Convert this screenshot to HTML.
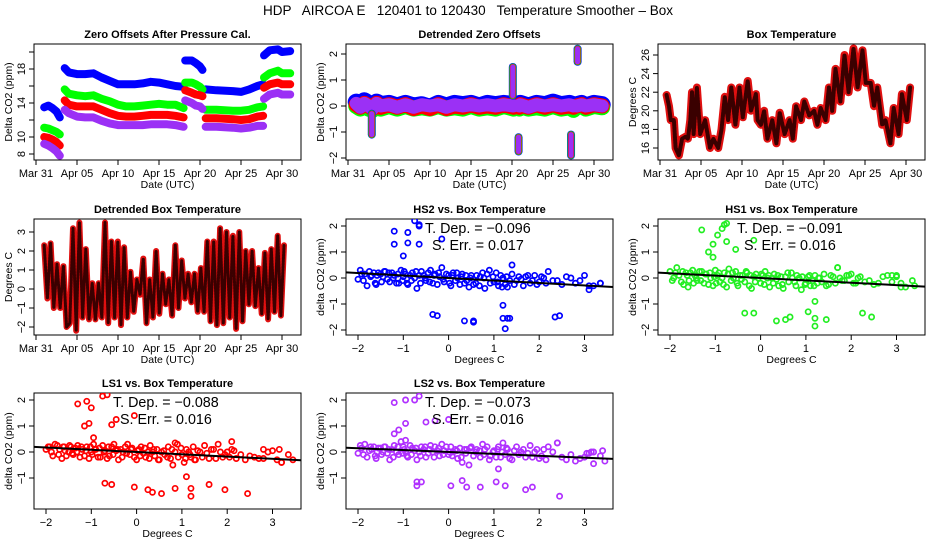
<!DOCTYPE html>
<html><head><meta charset="utf-8">
<style>
html,body{margin:0;padding:0;background:#fff;}
svg{display:block;font-family:"Liberation Sans",Arial,sans-serif;}
.tl{font-weight:bold;font-size:11px;}
.tk{font-size:11px;}
</style></head>
<body>
<svg id="chart" width="936" height="540" viewBox="0 0 936 540" xmlns="http://www.w3.org/2000/svg">
<rect width="936" height="540" fill="#fff"/>
<text x="468" y="15" text-anchor="middle" font-size="13.5" xml:space="preserve">HDP   AIRCOA E   120401 to 120430   Temperature Smoother – Box</text>
</svg>
<script>
// ---------- Panel 1: zero offsets ----------
const p1Days = [1,1.5,2,2.5,2.9,3.2,3.5,4,5,6,7,8,9,10,11,12,13,14,15,16,17,18,18.1,18.2,19,19.5,20,20.3,20.5,20.7,22,24,25,26,27,27.7,27.75,27.8,28.5,29.5,30,31];
const p1Blue = [13.5,13.7,13.4,13,12.3,null,18.1,17.6,17.4,17.4,17.5,17,16.6,16.2,16.2,16.2,16.3,16.5,16.4,16.2,16,15.9,null,19,19,18.7,18.3,17.9,null,15.6,15.5,15.4,15.3,15.6,16,16.2,null,19.6,20.2,20.3,20,20.1];
const p1Green = [11.1,11,10.8,10.6,10.3,null,15.6,15.1,14.9,14.8,14.9,14.5,14.2,13.8,13.6,13.6,13.7,13.8,13.9,13.8,13.8,13.4,null,16.4,16.4,16.2,15.9,15.6,null,13.2,13.2,13.1,13.1,13.2,13.5,13.6,null,17,17.5,17.8,17.5,17.5];
const p1Red = [10,9.9,9.7,9.4,9,null,14.3,13.8,13.6,13.6,13.6,13.2,12.8,12.5,12.4,12.4,12.5,12.6,12.6,12.6,12.5,12.3,null,15.5,15.2,15,14.9,14.8,null,12.2,12.2,12.1,12,12.1,12.4,12.5,null,15.8,16.2,16.4,16.2,16.2];
const p1Purple = [9.2,9,8.7,8.3,7.8,null,13.2,12.8,12.4,12.3,12.3,11.9,11.6,11.4,11.4,11.4,11.4,11.5,11.5,11.5,11.4,11.2,null,14.3,14,13.7,13.6,13.3,null,11.2,11.2,11.1,11,11.1,11.3,11.3,null,14.5,15,15.2,15,15];
// ---------- Panel 2: detrended ----------
const detDays = [1,1.5,2,2.5,3.0,3.2,3.5,4,5,6,7,8,9,10,11,12,13,14,15,16,17,18,19,20.2,20.5,20.9,21,22,23,24,25,26,27,27.5,27.7,27.9,28.5,29,30,31];
const detBlue = [0.15,0.0,0.2,0.1,-0.05,null,0.15,0.05,0.1,0.0,0.1,0.0,0.05,-0.05,0.1,0.0,0.1,0.05,0.1,0.0,0.1,0.05,0.1,0.05,null,0.05,0.1,0.0,0.1,0.05,0.15,0.05,0.1,0.05,null,0.05,0.1,0.0,0.1,0.05];
const detGreen = [0.0,-0.1,0.05,-0.1,-0.15,null,0.05,-0.1,0.0,-0.1,0.0,-0.1,-0.05,-0.1,0.0,-0.1,-0.05,-0.1,0.0,-0.1,-0.05,-0.1,0.0,-0.1,null,-0.1,0.0,-0.1,-0.05,-0.1,0.0,-0.1,-0.05,-0.15,null,-0.05,0.0,-0.1,0.0,-0.05];
const detRed = [0.05,-0.05,0.1,0.0,-0.1,null,0.1,-0.05,0.05,-0.05,0.05,-0.1,0.0,-0.1,0.05,-0.1,0.0,-0.05,0.05,-0.05,0.0,-0.05,0.05,-0.05,null,-0.05,0.05,-0.05,0.05,-0.05,0.05,-0.05,0.0,-0.05,null,0.0,0.05,-0.05,0.05,0.0];
const detPurple = [0.1,-0.05,0.1,0.0,-0.1,null,0.1,0.0,0.05,-0.05,0.05,-0.05,0.05,0.0,0.05,-0.05,0.05,0.0,0.05,0.0,0.05,0.0,0.05,0.0,null,0.0,0.05,-0.05,0.05,0.0,0.05,0.0,0.05,0.0,null,0.0,0.05,0.0,0.05,0.0];
const spikeDays = [2.9,20.1,20.8,27.2,28.0];
const spikeLo = [-1.1,0.4,-1.75,-1.9,1.7];
const spikeHi = [-0.3,1.5,-1.2,-1.1,2.2];
// ---------- Panel 3: box temperature ----------
const tempDays = [0.8,1.1,1.3,1.7,1.9,2.3,2.7,3.1,3.4,3.7,3.9,4.1,4.5,4.9,5.5,6.1,6.5,7.1,7.5,7.9,8.3,8.7,9.2,9.7,10.1,10.7,11.1,11.7,11.9,12.3,12.7,13.1,13.7,14.2,14.6,15.2,15.8,16.2,16.6,17.2,17.6,18.2,18.8,19.2,19.6,20.2,20.6,21,21.4,22,22.5,23,23.6,24.1,24.7,25.1,25.7,26.1,26.5,27.1,27.5,28.1,28.5,29.1,29.5,30.1,30.5];
const tempVals = [21.7,20.5,19,19,16,15.2,17,17.2,17,19,22,17.5,22.5,17.5,19,16,17,16,18,21.5,19,22.5,18.5,22.5,19.3,23.2,20,21.8,19,18.5,20,17,19,16.5,19.8,17.5,19,17,20.5,19,21,19.5,20,18.5,20.3,19,22.5,20,24.5,21,26,22,26.7,22.5,26.5,23,23,20.5,22.5,18.5,19,16.5,20.3,17.5,21.8,19,22.5];
// ---------- Panel 4: detrended box temperature ----------
const dtStartDay = 1.0;
const dtStepDay = 0.39;
const dtVals = [2.3,-0.5,2.4,-1,1.3,-1,1.2,-2,-1.8,3.2,-2.2,3.5,-1.5,2.1,-1.6,0.3,-1.6,0.3,-1.5,3.5,-1.8,2.5,-1.5,2.5,-1.9,2.2,-1.5,0.9,-1.2,0.5,-0.3,1.6,-1.8,0.5,-1.5,2,-1.3,0.8,-0.8,0.5,-1.4,2.3,-1,1.5,-0.5,0.8,-0.7,0.8,-1.2,1.1,-1.2,2.5,-1.7,2.5,-1.9,3.2,-1.8,3,-1.5,2.8,-2.1,3,-1.7,2,-0.8,2,-0.9,1.1,-1.3,1.9,-1.6,2.1,-1.2,2.8,-1.4,2.3];
// ---------- Scatter panels (shared box temperature x) ----------
const boxX = [-2.0,-1.95,-1.85,-1.8,-1.7,-1.65,-1.6,-1.5,-1.45,-1.4,-1.3,-1.25,-1.2,-1.1,-1.05,-1.0,-0.95,-0.9,-0.8,-0.75,-0.7,-0.6,-0.55,-0.5,-0.4,-0.35,-0.3,-0.2,-0.15,-0.1,0.0,0.05,0.1,0.2,0.25,0.3,0.4,0.45,0.5,0.6,0.7,0.75,0.8,0.9,1.0,1.05,1.1,1.2,1.25,1.3,1.4,1.5,1.6,1.7,1.8,1.9,2.0,2.1,2.2,2.4,2.6,2.8,3.0,3.2];
const boxX2 = [-1.92,-1.88,-1.75,-1.72,-1.62,-1.58,-1.55,-1.48,-1.42,-1.35,-1.32,-1.22,-1.15,-1.12,-1.02,-0.98,-0.92,-0.85,-0.82,-0.72,-0.65,-0.62,-0.52,-0.45,-0.42,-0.32,-0.25,-0.22,-0.12,-0.05,0.02,0.08,0.15,0.18,0.28,0.35,0.38,0.48,0.55,0.62,0.68,0.78,0.85,0.92,0.98,1.08,1.15,1.18,1.28,1.35,1.45,1.55,1.65,1.75,1.85,1.95,2.05,2.15,2.3,2.5,2.7,2.9,3.1,3.35];
const hs2Y = [-0.05,0.3,0.15,-0.3,0.1,0.2,-0.25,0.15,0.05,0.25,-0.15,0.2,0.1,-0.2,0.3,0.05,0.15,-0.25,0.2,0.0,-0.4,0.25,0.1,-0.1,0.3,-0.2,0.15,0.05,0.4,-0.15,0.1,-0.3,0.2,0.0,-0.25,0.15,-0.1,-0.35,0.1,-0.2,0.05,0.2,-0.4,0.3,-0.15,0.2,-0.3,0.0,-0.25,-0.35,0.15,-0.1,-0.05,0.05,-0.2,0.1,-0.15,0.0,0.25,-0.1,0.05,-0.2,0.1,-0.3];
const hs2Y2 = [0.15,-0.1,0.25,0.05,-0.2,0.1,0.2,-0.15,0.25,-0.05,0.2,0.0,-0.2,0.15,-0.1,0.25,-0.2,0.1,-0.1,0.25,0.1,-0.2,0.0,0.2,-0.15,0.1,-0.25,0.2,-0.05,0.15,-0.2,0.1,-0.1,0.2,0.05,-0.2,0.1,0.0,-0.25,0.1,-0.3,0.0,0.15,-0.2,0.05,-0.15,0.1,-0.35,0.05,-0.1,-0.25,0.05,-0.3,0.1,-0.1,-0.25,0.05,-0.2,-0.1,-0.25,0.0,-0.1,-0.3,-0.2];
const hs1Y = [0.25,-0.1,0.4,0.1,-0.25,0.2,-0.35,0.3,0.1,-0.1,0.25,-0.2,0.15,0.0,-0.3,0.3,0.1,-0.15,0.2,-0.35,0.35,0.0,0.25,-0.3,0.1,-0.15,0.2,-0.4,0.05,0.15,-0.2,0.1,0.25,-0.35,0.0,0.15,-0.3,0.05,-0.4,0.2,0.0,-0.15,0.1,-0.45,-0.2,0.05,-0.3,0.1,-0.2,0.0,0.15,-0.25,0.05,0.4,-0.1,0.1,0.15,-0.2,0.05,-0.1,-0.2,0.1,0.1,-0.35];
const hs1Y2 = [0.0,0.2,-0.15,0.25,0.1,-0.1,0.2,-0.2,0.0,0.25,-0.1,0.15,-0.25,0.2,0.05,-0.2,0.2,0.0,-0.25,0.15,-0.1,0.2,-0.2,0.1,-0.05,0.25,-0.3,0.1,-0.15,0.0,0.15,-0.25,0.0,0.1,-0.2,-0.05,0.1,-0.25,0.05,-0.15,0.2,-0.3,0.0,0.05,-0.25,0.1,-0.1,-0.3,0.0,-0.15,-0.3,0.1,-0.2,0.0,-0.1,0.1,-0.2,0.0,-0.15,-0.25,0.05,-0.15,-0.2,-0.1];
const ls1Y = [0.1,0.2,-0.15,0.3,0.1,-0.25,0.2,0.0,0.2,-0.1,0.25,-0.2,0.1,0.2,-0.25,0.0,0.3,0.1,-0.2,0.25,0.05,-0.15,0.2,0.3,-0.3,0.1,0.0,0.3,-0.1,0.15,-0.3,0.1,0.2,-0.2,0.0,0.25,-0.15,0.1,-0.3,0.05,0.2,-0.25,-0.5,0.3,-0.1,-0.4,0.1,-0.2,0.2,-0.3,0.0,0.25,-0.25,0.1,0.3,-0.2,0.0,0.1,-0.25,-0.3,-0.2,-0.25,0.05,-0.4];
const ls1Y2 = [0.2,0.0,0.25,-0.1,0.2,0.05,-0.15,0.25,-0.05,0.15,0.0,0.2,-0.15,0.05,0.2,-0.1,0.1,-0.2,0.15,0.0,-0.25,0.2,-0.1,0.05,0.1,-0.2,0.2,-0.05,0.1,-0.2,0.05,-0.15,-0.05,0.15,-0.25,0.0,0.1,-0.3,0.0,-0.1,-0.2,0.1,0.0,-0.2,0.15,-0.25,0.0,-0.1,-0.3,0.05,-0.2,-0.05,0.1,-0.25,0.0,-0.1,-0.2,0.05,-0.1,-0.15,-0.25,0.0,-0.3,-0.1];
const ls2Y = [-0.05,0.25,0.3,-0.2,0.1,0.2,-0.25,0.15,0.0,0.2,-0.3,0.1,0.25,-0.1,0.4,0.2,0.0,-0.2,0.15,0.05,-0.3,0.2,0.1,-0.2,0.25,0.0,0.2,-0.15,0.3,0.05,-0.1,0.2,0.0,-0.25,0.15,-0.4,0.1,-0.5,0.2,0.0,-0.2,0.3,0.1,-0.3,0.05,-0.2,0.2,0.35,-0.1,0.1,-0.3,0.2,0.0,-0.2,0.25,0.0,-0.25,0.1,0.2,0.35,-0.3,-0.35,-0.2,0.0];
const ls2Y2 = [0.15,-0.1,0.05,0.2,-0.15,0.0,0.15,-0.1,0.2,-0.05,0.1,-0.2,0.0,0.2,-0.05,0.1,-0.15,0.25,-0.1,0.15,0.0,-0.15,0.2,-0.05,0.1,-0.2,0.05,0.15,-0.1,0.2,0.0,-0.15,0.1,0.05,-0.2,0.1,-0.05,0.15,-0.15,0.1,0.05,-0.1,0.2,-0.15,0.0,0.1,-0.2,0.0,0.15,-0.25,0.05,-0.1,0.1,-0.05,-0.2,0.1,-0.15,-0.3,0.0,-0.2,-0.1,-0.25,-0.05,-0.15];
const hs2OutX = [-1.2,-1.2,-0.9,-0.9,-0.75,-0.65,-0.65,-0.65,-0.15,-1.0,-0.35,-0.25,0.35,0.55,0.55,1.2,1.2,1.25,1.3,1.35,2.35,2.45,1.4,3.35,3.1];
const hs2OutY = [1.8,1.3,1.75,1.35,2.2,2.05,2.0,1.3,1.5,0.85,-1.4,-1.45,-1.65,-1.7,-1.65,-1.05,-1.55,-1.95,-1.55,-1.55,-1.5,-1.45,0.5,-0.2,-0.45];
const hs1OutX = [-1.3,-1.15,-1.05,-1.05,-0.95,-0.85,-0.8,-0.75,-0.75,-0.55,-0.15,-0.35,-0.15,0.35,0.55,0.65,1.05,1.2,1.2,1.2,1.45,2.25,2.45,1.7,3.4,3.1,3.0,2.9];
const hs1OutY = [1.85,1.0,0.8,1.3,1.65,1.9,2.05,2.1,1.4,1.1,1.45,-1.35,-1.35,-1.65,-1.6,-1.5,-1.3,-0.9,-1.55,-1.85,-1.6,-1.35,-1.5,0.4,-0.3,-0.35,0.05,0.1];
const ls1OutX = [-1.3,-1.15,-1.1,-1.05,-1.0,-0.95,-0.7,-0.75,-0.65,-0.55,-0.55,-0.45,-0.05,-0.05,0.25,0.35,0.55,0.85,1.1,1.2,1.2,1.6,1.95,2.45,2.1,3.2,3.45,3.15,2.8,0.85];
const ls1OutY = [1.85,1.0,1.95,1.1,1.7,0.55,-1.2,2.15,2.2,-1.25,1.05,1.25,1.4,-1.35,-1.45,-1.55,-1.6,-1.4,-0.95,-1.4,-1.7,-1.25,-1.45,-1.6,0.4,-0.4,-0.3,0.1,0.1,0.35];
const ls2OutX = [-1.2,-0.95,-0.75,-0.65,-1.2,-1.1,-0.95,-0.5,-0.3,0.0,-0.7,-0.7,-0.6,0.05,0.3,0.4,0.7,1.05,1.1,1.25,1.7,1.85,2.45,2.4,3.45,3.2,3.15,3.4,3.05,-0.95];
const ls2OutY = [1.9,2.0,2.0,2.15,0.7,0.85,1.1,1.15,1.2,1.25,-1.15,-1.3,-1.15,-1.3,-1.1,-1.35,-1.35,-1.15,-0.65,-1.3,-1.45,-1.35,-1.7,0.35,-0.35,-0.45,0.0,0.05,-0.05,0.45];
const slopes = [-0.096,-0.091,-0.088,-0.073];
const intercepts = [0.0,0.0,0.0,0.0];
const slopeLabels = ["−0.096","−0.091","−0.088","−0.073"];
const errLabels = ["0.017","0.016","0.016","0.016"];
const dateTicks = [0,5,10,15,20,25,30];
const dateLabels = ["Mar 31","Apr 05","Apr 10","Apr 15","Apr 20","Apr 25","Apr 30"];

const NS = "http://www.w3.org/2000/svg";
const svg = document.getElementById('chart');
function mk(tag, attrs, parent){
  const e = document.createElementNS(NS, tag);
  for (const k in attrs) e.setAttribute(k, attrs[k]);
  (parent || svg).appendChild(e);
  return e;
}
const COLS = [34, 346, 658];
const TOPS = [44, 219, 393];
const W = 267, H = 116;

function panel(name, col, row, title, xmin, xscale, xpx0, ymin, yscale, ypx0){
  const L = COLS[col], T = TOPS[row];
  const g = mk('g', {});
  
  
  const p = {L, T, g};
  p.x = v => L + xpx0 + (v - xmin) * xscale;
  p.y = v => ypx0 - (v - ymin) * yscale;
  const box = mk('rect', {x:L, y:T, width:W, height:H, fill:'none', stroke:'#000', 'stroke-width':1}, g);
  
  
  const t = mk('text', {x:L + W/2, y:T - 6, 'text-anchor':'middle', class:'tl'}, g);
  t.textContent = title;
  
  
  return p;
}
function xAxis(p, ticks, labels, title){
  const b = p.T + H;
  const ax = mk('g', {}, p.g);
  
  
  mk('line', {x1:p.x(ticks[0]), x2:p.x(ticks[ticks.length-1]), y1:b, y2:b, stroke:'#000'}, ax);
  ticks.forEach((v,i)=>{
    mk('line', {x1:p.x(v), x2:p.x(v), y1:b, y2:b+5, stroke:'#000'}, ax);
    const tx = mk('text', {x:p.x(v), y:b+17, 'text-anchor':'middle', class:'tk'}, ax);
    tx.textContent = labels[i];
    
    
  });
  const at = mk('text', {x:p.L + W/2, y:b+28, 'text-anchor':'middle', 'font-size':'10.5'}, ax);
  at.textContent = title;
  
  
}
function yAxis(p, ticks, labels, title){
  const ay = mk('g', {}, p.g);
  
  
  ticks.forEach((v,i)=>{
    const yy = p.y(v);
    mk('line', {x1:p.L-5, x2:p.L, y1:yy, y2:yy, stroke:'#000'}, ay);
    if (labels[i] !== '') {
      const tx = mk('text', {x:p.L-9, y:yy, 'text-anchor':'middle', class:'tk', transform:'rotate(-90 '+(p.L-9)+' '+yy+')'}, ay);
      tx.textContent = labels[i];
      
      
    }
  });
  const cy = p.T + H/2, cx = p.L - 22;
  const at = mk('text', {x:cx, y:cy, 'text-anchor':'middle', 'font-size':'10.5', transform:'rotate(-90 '+cx+' '+cy+')'}, ay);
  at.textContent = title;
  
  
}
function clip(p){
  const id = 'c' + Math.round(p.L) + '_' + Math.round(p.T);
  const cp = mk('clipPath', {id}, p.g);
  mk('rect', {x:p.L, y:p.T, width:W, height:H}, cp);
  return mk('g', {'clip-path':'url(#'+id+')'}, p.g);
}
function polyLines(p, parent, xs, ys, color, width, name, dash){
  let seg = [];
  const flush = () => {
    if (seg.length) {
      const a = {points:seg.join(' '), fill:'none', stroke:color, 'stroke-width':width, 'stroke-linejoin':'round', 'stroke-linecap':'round'};
      if (dash) a['stroke-dasharray'] = dash;
      const pl = mk('polyline', a, parent);
      
      
    }
    seg = [];
  };
  for (let i=0;i<xs.length;i++){
    if (ys[i] === null || ys[i] === undefined) { flush(); continue; }
    seg.push(p.x(xs[i]).toFixed(1) + ',' + p.y(ys[i]).toFixed(1));
  }
  flush();
}
function dots(p, parent, xs, ys, color, name){
  const n = Math.min(xs.length, ys.length);
  for (let i=0;i<n;i++){
    const c = mk('circle', {cx:p.x(xs[i]), cy:p.y(ys[i]), r:2.6, fill:'none', stroke:color, 'stroke-width':1.7}, parent);
    
    
  }
}
const PURPLE = '#9b30f5';

// Panel 1
{
  const p = panel('zero-offsets-panel', 0, 0, 'Zero Offsets After Pressure Cal.', 0, 8.2, 2, 8, 8.5, 154);
  const g = clip(p);
  polyLines(p, g, p1Days, p1Blue, '#0000ff', 8, 'series-hs2');
  polyLines(p, g, p1Days, p1Green, '#00ff00', 8, 'series-hs1');
  polyLines(p, g, p1Days, p1Red, '#ff0000', 8, 'series-ls1');
  polyLines(p, g, p1Days, p1Purple, PURPLE, 8, 'series-ls2');
  xAxis(p, dateTicks, dateLabels, 'Date (UTC)');
  yAxis(p, [8,10,12,14,16,18,20], ['8','10','','14','','18',''], 'Delta CO2 (ppm)');
}
// Panel 2
{
  const p = panel('detrended-offsets-panel', 1, 0, 'Detrended Zero Offsets', 0, 8.2, 2, 0, 26, 106);
  const g = clip(p);
  polyLines(p, g, detDays, detBlue, '#0000ff', 17, 'series-hs2');
  polyLines(p, g, detDays, detGreen, '#00ff00', 16, 'series-hs1');
  polyLines(p, g, detDays, detRed, '#ff0000', 15, 'series-ls1');
  polyLines(p, g, detDays, detPurple, PURPLE, 13, 'series-ls2');
  for (let i=0;i<spikeDays.length;i++){
    const cols = ['#0000ff','#00ff00','#ff0000',PURPLE];
    const ws = [8,7,6,5];
    cols.forEach((c,k)=>{
      const s = mk('line', {x1:p.x(spikeDays[i]), x2:p.x(spikeDays[i]), y1:p.y(spikeLo[i]), y2:p.y(spikeHi[i]), stroke:c, 'stroke-width':ws[k], 'stroke-linecap':'round'}, g);
      
      
    });
  }
  xAxis(p, dateTicks, dateLabels, 'Date (UTC)');
  yAxis(p, [2,1,0,-1,-2], ['2','1','0','−1','−2'], 'Delta CO2 (ppm)');
}
// Panel 3
{
  const p = panel('box-temperature-panel', 2, 0, 'Box Temperature', 0, 8.2, 2, 16, 9.3, 148);
  const g = clip(p);
  polyLines(p, g, tempDays, tempVals, '#e01010', 8, 'series-box-temp');
  polyLines(p, g, tempDays, tempVals, '#3a0000', 4, 'series-box-temp-core', '1.5 1.5');
  xAxis(p, dateTicks, dateLabels, 'Date (UTC)');
  yAxis(p, [16,18,20,22,24,26], ['16','18','20','22','24','26'], 'Degrees C');
}
// Panel 4
{
  const p = panel('detrended-box-temp-panel', 0, 1, 'Detrended Box Temperature', 0, 8.2, 2, 0, 19, 289);
  const g = clip(p);
  const dDays = dtVals.map((v,i)=> dtStartDay + i*dtStepDay);
  polyLines(p, g, dDays, dtVals, '#e01010', 6, 'series-detrended-temp');
  polyLines(p, g, dDays, dtVals, '#3a0000', 3, 'series-detrended-temp-core', '1.5 1.5');
  xAxis(p, dateTicks, dateLabels, 'Date (UTC)');
  yAxis(p, [3,2,1,0,-1,-2], ['3','2','1','0','−1','−2'], 'Degrees C');
}
// Scatter panels
const scat = [
  {name:'hs2-scatter-panel', col:1, row:1, title:'HS2 vs. Box Temperature', ys:hs2Y, ys2:hs2Y2, ox:hs2OutX, oy:hs2OutY, color:'#0000ff', ticks:[2,1,0,-1,-2]},
  {name:'hs1-scatter-panel', col:2, row:1, title:'HS1 vs. Box Temperature', ys:hs1Y, ys2:hs1Y2, ox:hs1OutX, oy:hs1OutY, color:'#22ee22', ticks:[2,1,0,-1,-2]},
  {name:'ls1-scatter-panel', col:0, row:2, title:'LS1 vs. Box Temperature', ys:ls1Y, ys2:ls1Y2, ox:ls1OutX, oy:ls1OutY, color:'#ff0000', ticks:[2,1,0,-1]},
  {name:'ls2-scatter-panel', col:1, row:2, title:'LS2 vs. Box Temperature', ys:ls2Y, ys2:ls2Y2, ox:ls2OutX, oy:ls2OutY, color:'#b030ff', ticks:[2,1,0,-1]}
];
scat.forEach((s, k)=>{
  const T = TOPS[s.row];
  const p = panel(s.name, s.col, s.row, s.title, -2, 45.3, 12, 0, 26, T + 59);
  const g = clip(p);
  dots(p, g, boxX, s.ys, s.color, 'data-point');
  dots(p, g, boxX2, s.ys2, s.color, 'data-point');
  dots(p, g, s.ox, s.oy, s.color, 'outlier-point');
  const x0 = -2.6, x1 = 4.0;
  const fit = mk('line', {x1:p.x(x0), x2:p.x(x1), y1:p.y(intercepts[k] + slopes[k]*x0), y2:p.y(intercepts[k] + slopes[k]*x1), stroke:'#000', 'stroke-width':2}, g);
  
  
  const t1 = mk('text', {x:p.L + 79, y:T + 14, 'font-size':'14.3', 'xml:space':'preserve'}, p.g);
  t1.textContent = 'T. Dep. =  ' + slopeLabels[k];
  
  
  const t2 = mk('text', {x:p.L + 86, y:T + 31, 'font-size':'14.3', 'xml:space':'preserve'}, p.g);
  t2.textContent = 'S. Err. =  ' + errLabels[k];
  
  
  xAxis(p, [-2,-1,0,1,2,3], ['−2','−1','0','1','2','3'], 'Degrees C');
  yAxis(p, s.ticks, s.ticks.map(v => v < 0 ? '−' + (-v) : String(v)), 'delta CO2 (ppm)');
});
</script>
</body></html>
